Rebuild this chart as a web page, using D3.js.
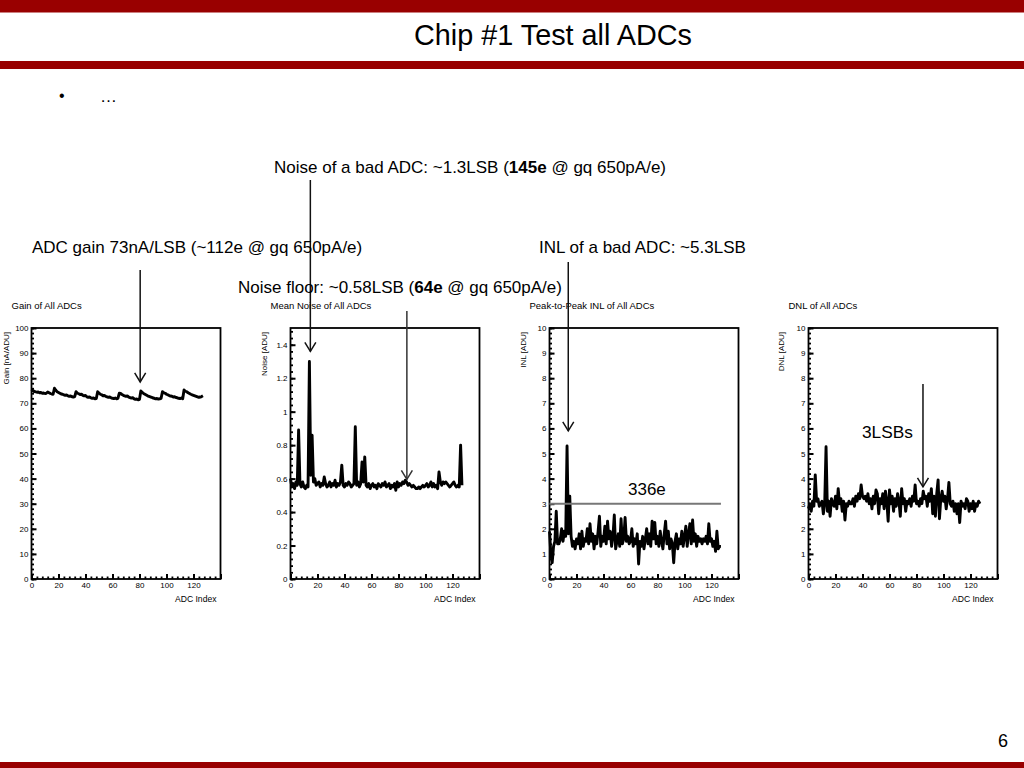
<!DOCTYPE html>
<html><head><meta charset="utf-8">
<script src="https://cdn.jsdelivr.net/npm/d3@7/dist/d3.min.js"></script>
<style>
html,body{margin:0;padding:0;background:#fff;}
text{font-family:"Liberation Sans",Arial,Helvetica,sans-serif;fill:#000;}
</style></head>
<body>
<svg id="c" width="1024" height="768"></svg>
<script>
// ---------------- data ----------------
const adcIndex = d3.range(0, 128);

const gainValues = [
 75.6,75.1,74.7,74.6,74.4,74.5,74.2,74.3,74.0,74.1,73.9,74.0,74.5,74.2,73.9,73.7,73.6,
 76.0,75.2,74.6,74.3,74.0,73.7,73.6,73.4,73.2,73.3,73.0,72.8,72.9,72.6,72.5,72.7,
 74.6,74.0,73.8,73.5,73.6,73.2,73.0,73.1,72.6,72.4,72.5,72.2,72.0,72.1,71.8,71.9,
 74.6,74.1,73.6,73.4,73.0,73.1,72.8,72.6,72.4,72.5,72.2,72.0,71.9,72.1,71.8,72.0,
 74.0,73.9,73.5,73.2,73.0,72.8,72.9,72.5,72.3,72.1,72.2,71.8,71.6,71.7,71.4,71.6,
 74.9,74.4,73.9,73.6,73.3,73.0,72.8,72.6,72.4,72.1,72.0,71.8,71.9,71.7,71.8,72.0,
 74.6,74.2,74.0,73.6,73.4,73.1,72.9,72.8,72.5,72.6,72.3,72.2,72.0,71.9,72.1,71.8,
 75.3,74.8,74.6,74.2,73.9,73.6,73.4,73.2,73.0,72.8,72.6,72.4,72.5,72.7,73.0
];

const noiseValues = [
 0.60,0.55,0.57,0.54,0.58,0.56,0.89,0.57,0.55,0.58,0.55,0.54,0.56,0.55,1.30,0.62,0.86,0.58,0.60,0.56,
 0.57,0.58,0.55,0.57,0.56,0.61,0.57,0.55,0.56,0.58,0.55,0.57,0.56,0.59,0.55,0.57,0.56,0.58,0.68,0.56,
 0.55,0.57,0.56,0.58,0.57,0.55,0.56,0.57,0.91,0.56,0.58,0.55,0.57,0.70,0.58,0.73,0.56,0.55,0.57,0.54,
 0.56,0.57,0.55,0.56,0.54,0.57,0.56,0.55,0.57,0.56,0.58,0.55,0.56,0.57,0.54,0.56,0.55,0.57,0.53,0.58,
 0.55,0.57,0.56,0.58,0.57,0.59,0.58,0.56,0.57,0.56,0.55,0.56,0.55,0.54,0.54,0.55,0.54,0.55,0.56,0.55,
 0.56,0.57,0.55,0.56,0.58,0.55,0.57,0.55,0.56,0.54,0.64,0.58,0.56,0.58,0.57,0.58,0.57,0.56,0.55,0.56,
 0.57,0.58,0.56,0.55,0.56,0.55,0.80,0.56
];

const inlValues = [
 1.9,1.0,0.65,1.3,1.5,2.7,1.4,1.4,1.6,2.0,1.5,1.9,1.7,5.3,1.8,3.3,1.7,1.3,1.5,1.2,
 1.6,1.4,1.8,1.2,1.9,1.3,1.6,1.5,2.0,1.4,2.2,1.5,1.8,1.2,1.7,1.4,1.9,2.5,1.3,1.7,
 1.5,2.1,1.4,2.3,1.6,1.9,1.3,1.7,2.55,1.2,1.5,1.8,1.3,2.4,1.4,1.6,2.45,1.5,1.7,1.4,
 1.5,2.0,1.3,1.6,1.4,1.8,0.6,1.5,1.3,1.7,1.2,1.6,2.0,1.4,1.8,1.3,2.3,1.6,2.25,1.4,
 1.7,1.3,1.9,1.5,1.2,1.8,2.3,1.4,1.9,1.2,1.6,1.4,0.65,1.5,1.8,1.2,1.6,1.4,1.9,1.3,
 1.7,2.1,1.3,1.8,2.2,1.4,2.35,1.5,1.8,1.3,1.7,1.5,1.6,1.4,1.6,1.5,1.7,1.4,2.2,1.5,
 1.6,1.3,1.5,1.1,1.9,1.2,1.3,1.3
];

const dnlValues = [
 2.8,3.0,2.7,3.1,2.9,4.15,3.1,3.2,2.9,3.0,3.1,2.6,3.0,5.27,2.7,3.1,2.5,3.2,3.0,2.9,
 3.3,2.8,3.6,3.0,3.2,2.7,3.1,2.35,3.0,2.9,3.1,3.0,3.0,3.2,2.9,3.3,3.1,3.4,3.2,3.75,
 3.3,3.2,3.3,3.1,3.4,3.0,3.2,2.8,3.3,3.0,3.55,3.4,2.6,3.2,3.0,3.4,2.8,3.5,3.1,2.3,
 3.55,3.0,3.3,2.7,3.2,2.9,3.4,3.1,2.5,3.6,3.0,3.2,2.7,3.1,3.0,3.2,2.9,3.3,3.1,3.75,
 3.0,3.1,2.9,3.2,3.0,3.5,3.2,3.3,2.9,3.4,3.1,3.6,2.6,3.3,2.5,3.4,3.95,2.4,3.2,3.5,
 3.1,3.3,2.8,3.2,3.85,3.0,2.9,3.1,2.7,3.0,2.6,3.0,2.25,3.1,2.9,3.0,2.8,3.2,3.1,2.7,
 3.0,2.8,3.1,2.7,3.0,2.9,3.1,3.0
];

const xTickValues = [0,20,40,60,80,100,120];
const gainTicks = [0,10,20,30,40,50,60,70,80,90,100];
const noiseTicks = [0,0.2,0.4,0.6,0.8,1.0,1.2,1.4];
const lsbTicks = [0,1,2,3,4,5,6,7,8,9,10];

const plotTitles = ["Gain of All ADCs","Mean Noise of All ADCs","Peak-to-Peak INL of All ADCs","DNL of All ADCs"];
const yTitles = ["Gain [nA/ADU]","Noise [ADU]","INL [ADU]","DNL [ADU]"];
const xTitle = "ADC Index";

const inlLimit = 3.0;      // 336e reference line
const inlLimitLabel = "336e";
const dnlLabel = "3LSBs";

// ---------------- layout ----------------
const svg = d3.select("#c");
const W = 1024, H = 768;
const red = "#990000";

svg.append("rect").attr("x",0).attr("y",0).attr("width",W).attr("height",12.5).attr("fill",red);
svg.append("rect").attr("x",0).attr("y",61).attr("width",W).attr("height",8).attr("fill",red);
svg.append("rect").attr("x",0).attr("y",762).attr("width",W).attr("height",6).attr("fill",red);

svg.append("text").attr("x",553).attr("y",45).attr("text-anchor","middle")
  .attr("font-size",30).attr("textLength",278).attr("lengthAdjust","spacingAndGlyphs")
  .style("font-family","'Liberation Sans Narrow','Liberation Sans',Arial,sans-serif")
  .text("Chip #1 Test all ADCs");
svg.append("text").attr("x",59).attr("y",101).attr("font-size",16).text("•");
svg.append("text").attr("x",100).attr("y",102).attr("font-size",17).text("…");
svg.append("text").attr("x",1003).attr("y",747).attr("text-anchor","middle").attr("font-size",18).text("6");

const plotLefts = [31.5, 290.5, 549.5, 808.5];
const pw = 189, plotTop = 328, plotBottom = 579;

const cfg = [
  {vals: gainValues, dom:[0,100], major: gainTicks, minor: d3.range(0,100.001,2), fmt: d3.format("d"), yt:-23},
  {vals: noiseValues, dom:[0,1.5], major: noiseTicks, minor: d3.range(0,1.5001,0.04), fmt: d3.format("~g"), yt:-24},
  {vals: inlValues, dom:[0,10], major: lsbTicks, minor: d3.range(0,10.001,0.2), fmt: d3.format("d"), yt:-24},
  {vals: dnlValues, dom:[0,10], major: lsbTicks, minor: d3.range(0,10.001,0.2), fmt: d3.format("d"), yt:-25}
];

const scales = [];
cfg.forEach((c, i) => {
  const L = plotLefts[i];
  const x = d3.scaleLinear().domain([0,140]).range([L, L+pw]);
  const y = d3.scaleLinear().domain(c.dom).range([plotBottom, plotTop]);
  scales.push({x, y});
  const g = svg.append("g");

  // minor ticks
  g.append("g").attr("transform",`translate(${L},0)`)
    .call(d3.axisLeft(y).tickValues(c.minor).tickSize(-2.5).tickFormat(""))
    .call(a => a.select(".domain").remove())
    .call(a => a.selectAll("line").attr("stroke","#000").attr("stroke-width",1.8));
  g.append("g").attr("transform",`translate(0,${plotBottom})`)
    .call(d3.axisBottom(x).tickValues(d3.range(0,140.001,4)).tickSize(-2.5).tickFormat(""))
    .call(a => a.select(".domain").remove())
    .call(a => a.selectAll("line").attr("stroke","#000").attr("stroke-width",1.8));
  // major ticks
  g.append("g").attr("transform",`translate(${L},0)`)
    .call(d3.axisLeft(y).tickValues(c.major).tickSize(-5).tickPadding(3).tickFormat(c.fmt))
    .call(a => a.select(".domain").remove())
    .call(a => a.selectAll("line").attr("stroke","#000").attr("stroke-width",2))
    .call(a => a.selectAll("text").attr("font-size",8).attr("font-family","Liberation Sans, Arial, sans-serif").attr("fill","#000"));
  g.append("g").attr("transform",`translate(0,${plotBottom})`)
    .call(d3.axisBottom(x).tickValues(xTickValues.concat([140])).tickSize(-5).tickPadding(3)
       .tickFormat(d => d === 140 ? "" : d))
    .call(a => a.select(".domain").remove())
    .call(a => a.selectAll("line").attr("stroke","#000").attr("stroke-width",2))
    .call(a => a.selectAll("text").attr("font-size",8).attr("font-family","Liberation Sans, Arial, sans-serif").attr("fill","#000"));

  // frame
  g.append("rect").attr("x",L).attr("y",plotTop).attr("width",pw).attr("height",plotBottom-plotTop)
    .attr("fill","none").attr("stroke","#000").attr("stroke-width",1.8);

  // data line
  const line = d3.line().x((d,k) => x(adcIndex[k])).y(d => y(d));
  g.append("path").datum(c.vals).attr("d", line)
    .attr("fill","none").attr("stroke","#000").attr("stroke-width",2.9).attr("stroke-linejoin","round");

  // titles
  g.append("text").attr("x",L-20).attr("y",309).attr("font-size",9.5).text(plotTitles[i]);
  g.append("text").attr("transform",`translate(${L+c.yt},${plotTop+4}) rotate(-90)`)
    .attr("text-anchor","end").attr("font-size",8).text(yTitles[i]);
  g.append("text").attr("x",L+pw-4).attr("y",602).attr("text-anchor","end").attr("font-size",8.6).text(xTitle);
});

// INL reference line
{
  const {x, y} = scales[2];
  svg.append("line").attr("x1",x(0)).attr("x2",x(127)).attr("y1",y(inlLimit)).attr("y2",y(inlLimit))
    .attr("stroke","#777").attr("stroke-width",2);
  svg.append("text").attr("x",628).attr("y",495).attr("font-size",17).text(inlLimitLabel);
}
svg.append("text").attr("x",862).attr("y",438).attr("font-size",17.3).text(dnlLabel);

// arrows
function arrow(x, yTop, yTip, color) {
  svg.append("line").attr("x1",x).attr("x2",x).attr("y1",yTop).attr("y2",yTip)
    .attr("stroke",color).attr("stroke-width",1.5);
  svg.append("path").attr("d",`M${x-5.5},${yTip-9}L${x},${yTip}L${x+5.5},${yTip-9}`)
    .attr("fill","none").attr("stroke",color).attr("stroke-width",1.5);
}
arrow(scales[0].x(80.5), 270, scales[0].y(78.5), "#111");
arrow(scales[1].x(14.7), 180, scales[1].y(1.36), "#111");
arrow(scales[1].x(86.2), 311, scales[1].y(0.595), "#333");
arrow(scales[2].x(13.9), 262, scales[2].y(5.9), "#111");
arrow(scales[3].x(84.8), scales[3].y(7.77), scales[3].y(3.67), "#111");

// annotation texts
function ann(x, y, parts) {
  const t = svg.append("text").attr("x",x).attr("y",y).attr("font-size",17);
  parts.forEach(p => t.append("tspan").attr("font-weight", p[1] ? "bold" : "normal").text(p[0]));
}
ann(274, 173, [["Noise of a bad ADC: ~1.3LSB (",0],["145e",1],[" @ gq 650pA/e)",0]]);
ann(32, 253, [["ADC gain 73nA/LSB (~112e @ gq 650pA/e)",0]]);
ann(539, 253, [["INL of a bad ADC: ~5.3LSB",0]]);
ann(238, 293, [["Noise floor: ~0.58LSB (",0],["64e",1],[" @ gq 650pA/e)",0]]);
</script>
</body></html>
